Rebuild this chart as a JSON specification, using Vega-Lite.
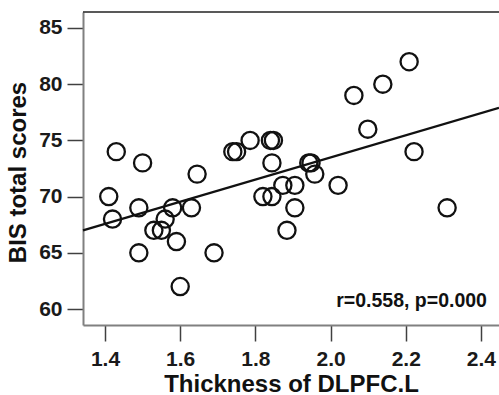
{
  "$schema": "https://vega.github.io/schema/vega-lite/v6.json",
  "width": 416,
  "height": 313,
  "autosize": "none",
  "padding": {"left": 83, "top": 12, "right": 0, "bottom": 70},
  "background": "white",
  "config": {"view": {"stroke": null}, "font": "Liberation Sans"},
  "datasets": {
    "points": [
      {"thickness": 1.41, "bis": 70},
      {"thickness": 1.42, "bis": 68},
      {"thickness": 1.43, "bis": 74},
      {"thickness": 1.49, "bis": 69},
      {"thickness": 1.49, "bis": 65},
      {"thickness": 1.50, "bis": 73},
      {"thickness": 1.53, "bis": 67},
      {"thickness": 1.55, "bis": 67},
      {"thickness": 1.56, "bis": 68},
      {"thickness": 1.58, "bis": 69},
      {"thickness": 1.59, "bis": 66},
      {"thickness": 1.60, "bis": 62},
      {"thickness": 1.63, "bis": 69},
      {"thickness": 1.645, "bis": 72},
      {"thickness": 1.69, "bis": 65},
      {"thickness": 1.74, "bis": 74},
      {"thickness": 1.75, "bis": 74},
      {"thickness": 1.786, "bis": 75},
      {"thickness": 1.82, "bis": 70},
      {"thickness": 1.844, "bis": 70},
      {"thickness": 1.844, "bis": 73},
      {"thickness": 1.84, "bis": 75},
      {"thickness": 1.848, "bis": 75},
      {"thickness": 1.873, "bis": 71},
      {"thickness": 1.884, "bis": 67},
      {"thickness": 1.905, "bis": 71},
      {"thickness": 1.905, "bis": 69},
      {"thickness": 1.942, "bis": 73},
      {"thickness": 1.948, "bis": 73},
      {"thickness": 1.958, "bis": 72},
      {"thickness": 2.02, "bis": 71},
      {"thickness": 2.062, "bis": 79},
      {"thickness": 2.099, "bis": 76},
      {"thickness": 2.139, "bis": 80},
      {"thickness": 2.209, "bis": 82},
      {"thickness": 2.222, "bis": 74},
      {"thickness": 2.31, "bis": 69}
    ],
    "fit": [
      {"thickness": 1.3415, "bis": 67.0},
      {"thickness": 2.448, "bis": 77.9}
    ]
  },
  "layer": [
    {
      "data": {"name": "points"},
      "mark": {"type": "point", "shape": "circle", "filled": false, "stroke": "#111111", "strokeWidth": 2.3, "size": 295, "opacity": 1},
      "encoding": {
        "x": {
          "field": "thickness", "type": "quantitative",
          "scale": {"domain": [1.3415, 2.448], "nice": false, "zero": false},
          "axis": {
            "title": "Thickness of DLPFC.L",
            "values": [1.4, 1.6, 1.8, 2.0, 2.2, 2.4],
            "format": ".1f",
            "grid": false,
            "domainColor": "#808080", "domainWidth": 2,
            "tickColor": "#404040", "tickSize": 16, "tickWidth": 1.5,
            "labelFontSize": 21, "labelFontWeight": "bold", "labelColor": "#1a1a1a", "labelPadding": 7,
            "titleFontSize": 24, "titleFontWeight": "bold", "titleColor": "#111111",
            "titleBaseline": "alphabetic", "titleY": 66
          }
        },
        "y": {
          "field": "bis", "type": "quantitative",
          "scale": {"domain": [58.58, 86.42], "nice": false, "zero": false},
          "axis": {
            "title": "BIS total scores",
            "values": [60, 65, 70, 75, 80, 85],
            "grid": false,
            "domainColor": "#808080", "domainWidth": 2,
            "tickColor": "#404040", "tickSize": 16, "tickWidth": 1.5,
            "labelFontSize": 21, "labelFontWeight": "bold", "labelColor": "#1a1a1a", "labelPadding": 5,
            "titleFontSize": 24, "titleFontWeight": "bold", "titleColor": "#111111",
            "titleBaseline": "alphabetic", "titleX": -58, "titleY": 160
          }
        }
      }
    },
    {
      "data": {"name": "fit"},
      "mark": {"type": "line", "color": "#111111", "strokeWidth": 2.3},
      "encoding": {
        "x": {"field": "thickness", "type": "quantitative", "title": "Thickness of DLPFC.L"},
        "y": {"field": "bis", "type": "quantitative", "title": "BIS total scores"}
      }
    },
    {
      "data": {"values": [{}]},
      "mark": {"type": "rule", "color": "#222222", "strokeWidth": 1.5},
      "encoding": {"y": {"datum": 86.42, "type": "quantitative"}}
    },
    {
      "data": {"values": [{}]},
      "mark": {"type": "text", "text": "r=0.558, p=0.000", "align": "right", "baseline": "alphabetic", "fontSize": 19.5, "fontWeight": "bold", "color": "#111111"},
      "encoding": {
        "x": {"datum": 2.416, "type": "quantitative"},
        "y": {"datum": 60.18, "type": "quantitative"}
      }
    }
  ]
}
